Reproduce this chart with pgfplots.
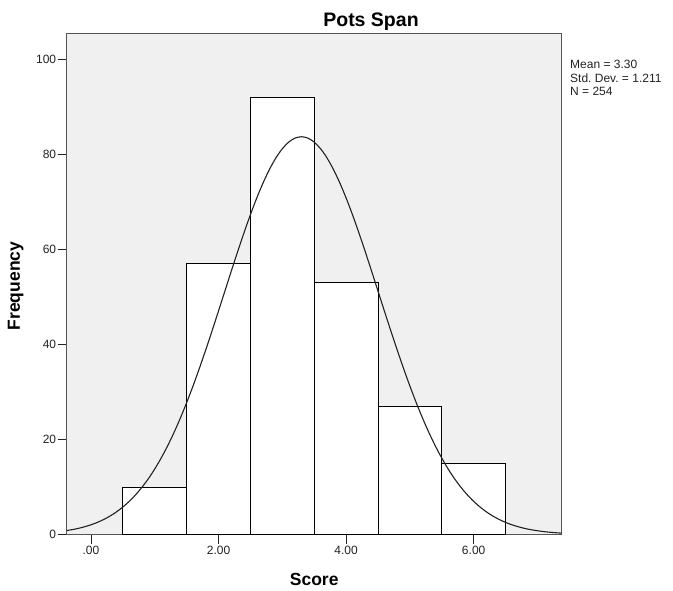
\documentclass[border=0pt]{standalone}
\usepackage{fontspec}
\setmainfont{Liberation Sans}
\usepackage{pgfplots}
\pgfplotsset{compat=1.18}
\definecolor{panel}{HTML}{F0F0F0}
\definecolor{frame}{HTML}{555555}
\definecolor{ink}{HTML}{222222}
\frenchspacing

\begin{document}
\begin{tikzpicture}
\begin{axis}[
  scale only axis, width=495pt, height=501pt,
  xmin=-0.38, xmax=7.38, ymin=0, ymax=105.4,
  axis background/.style={fill=panel},
  axis line style={frame, line width=1.2pt},
  tick align=outside, major tick length=9pt,
  xtick pos=bottom, ytick pos=left,
  tick style={ink, line width=0.8pt},
  xtick={0,2,4,6}, xticklabels={.00,2.00,4.00,6.00},
  ytick={0,20,40,60,80,100},
  ticklabel style={font=\fontsize{12}{14}\selectfont, text=ink},
  /pgf/number format/assume math mode=true,
  xticklabel style={yshift=1pt},
  yticklabel style={xshift=2pt},
]
% histogram of the scores (bin width 1)
\addplot[ybar interval, fill=white, draw=black, line width=0.8pt] coordinates {
  (0.5,10) (1.5,57) (2.5,92) (3.5,53) (4.5,27) (5.5,15) (6.5,15)
};
% normal curve: mean 3.30, sd 1.211, N 254
\addplot[smooth, ink, line width=1.1pt] coordinates {
  (-0.38,0.83) (-0.3,1.01) (-0.2,1.28) (-0.1,1.63) (0.0,2.04) (0.1,2.55)
  (0.2,3.16) (0.3,3.89) (0.4,4.76) (0.5,5.78) (0.6,6.97) (0.7,8.35)
  (0.8,9.94) (0.9,11.74) (1.0,13.78) (1.1,16.07) (1.2,18.60) (1.3,21.40)
  (1.4,24.44) (1.5,27.73) (1.6,31.24) (1.7,34.96) (1.8,38.86) (1.9,42.90)
  (2.0,47.03) (2.1,51.22) (2.2,55.40) (2.3,59.51) (2.4,63.49) (2.5,67.28)
  (2.6,70.81) (2.7,74.01) (2.8,76.84) (2.9,79.24) (3.0,81.15) (3.1,82.55)
  (3.2,83.40) (3.3,83.68) (3.4,83.40) (3.5,82.55) (3.6,81.15) (3.7,79.24)
  (3.8,76.84) (3.9,74.01) (4.0,70.81) (4.1,67.28) (4.2,63.49) (4.3,59.51)
  (4.4,55.40) (4.5,51.22) (4.6,47.03) (4.7,42.90) (4.8,38.86) (4.9,34.96)
  (5.0,31.24) (5.1,27.73) (5.2,24.44) (5.3,21.40) (5.4,18.60) (5.5,16.07)
  (5.6,13.78) (5.7,11.74) (5.8,9.94) (5.9,8.35) (6.0,6.97) (6.1,5.78)
  (6.2,4.76) (6.3,3.89) (6.4,3.16) (6.5,2.55) (6.6,2.04) (6.7,1.63)
  (6.8,1.28) (6.9,1.01) (7.0,0.79) (7.1,0.61) (7.2,0.47) (7.3,0.36)
  (7.38,0.29)
};
\end{axis}
% title, axis labels and summary statistics
\node[anchor=base, font=\fontsize{19.5}{22}\selectfont\bfseries]
  at ([shift={(304.3pt,6.5pt)}]current axis.north west) {Pots Span};
\node[anchor=base, font=\fontsize{17.5}{20}\selectfont\bfseries]
  at ([shift={(247.5pt,-50.5pt)}]current axis.south west) {Score};
\node[anchor=base, rotate=90, font=\fontsize{17.5}{20}\selectfont\bfseries]
  at ([shift={(-46.7pt,248.5pt)}]current axis.south west) {Frequency};
\begin{scope}[every node/.style={anchor=base west, inner sep=0pt,
    font=\fontsize{12}{14}\selectfont, text=ink}]
  \node at ([shift={(8.3pt,-35.5pt)}]current axis.north east) {Mean = 3.30};
  \node at ([shift={(8.3pt,-48.8pt)}]current axis.north east) {Std. Dev. = 1.211};
  \node at ([shift={(8.3pt,-62.2pt)}]current axis.north east) {N = 254};
\end{scope}
\pgfresetboundingbox
\path ([shift={(-66.7pt,-55.5pt)}]current axis.south west)
  rectangle ([shift={(111.3pt,33.5pt)}]current axis.north east);
\end{tikzpicture}
\end{document}
